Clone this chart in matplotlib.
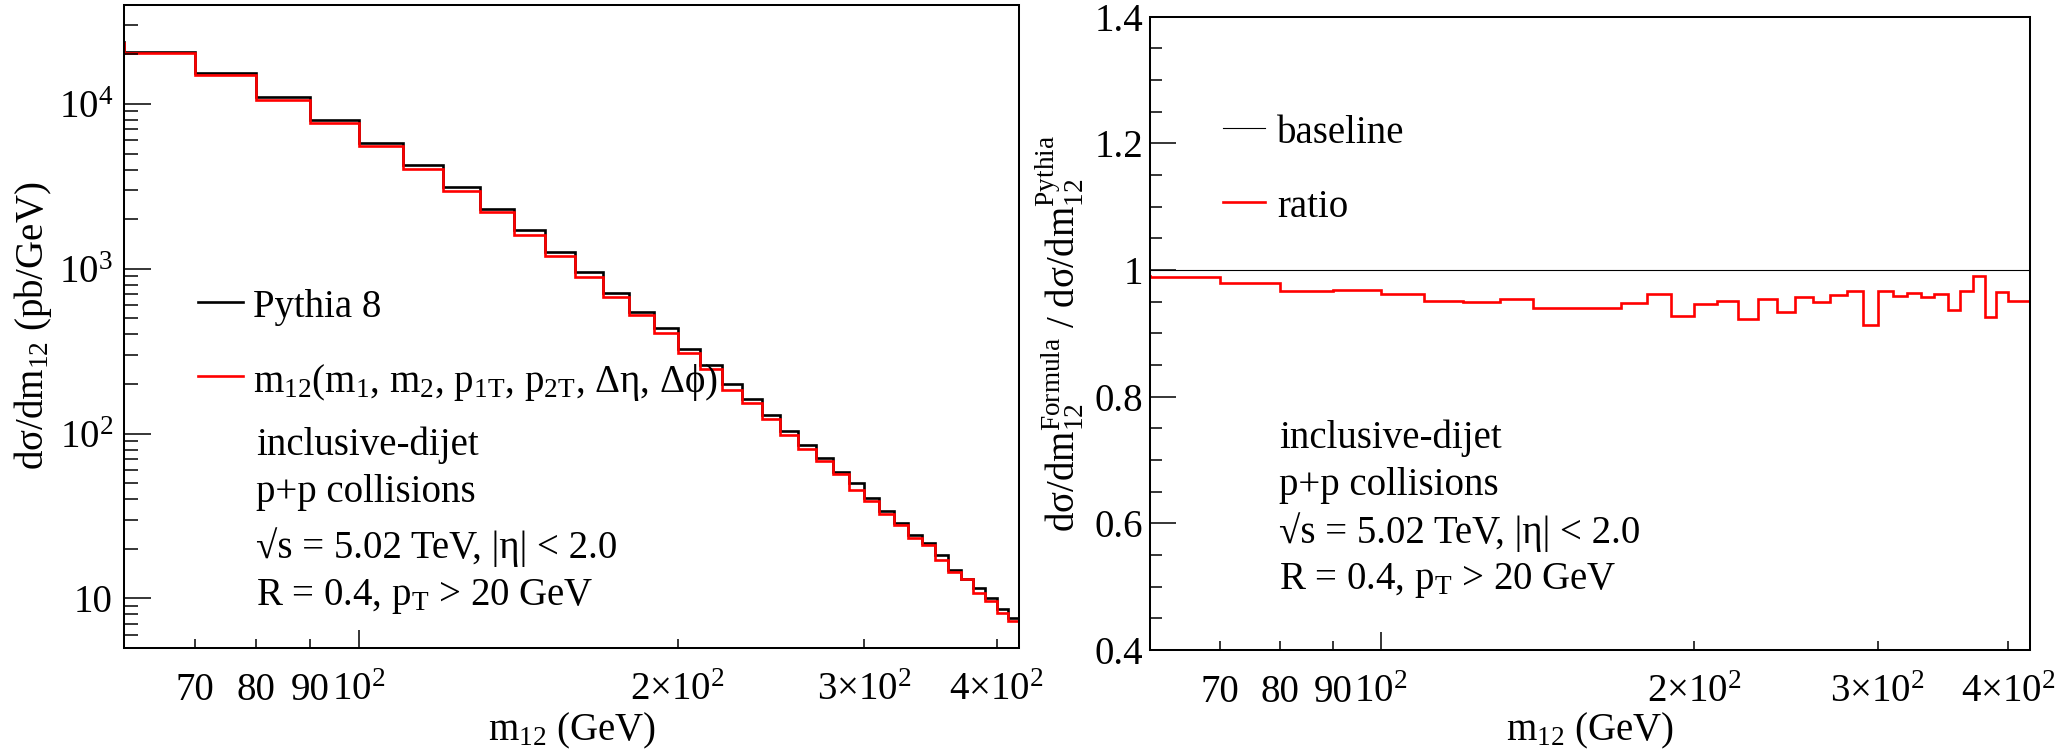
import numpy as np
import matplotlib
matplotlib.use("Agg")
import matplotlib.pyplot as plt
from matplotlib.lines import Line2D

plt.rcParams['font.family'] = ['Liberation Serif', 'DejaVu Serif']
plt.rcParams['mathtext.fontset'] = 'custom'
plt.rcParams['mathtext.rm'] = 'Liberation Serif'
plt.rcParams['mathtext.it'] = 'Liberation Serif'
plt.rcParams['mathtext.bf'] = 'Liberation Serif:bold'
plt.rcParams['mathtext.sf'] = 'Liberation Serif'

# ---------------- data ----------------
# m12 bins (GeV), 10 GeV wide; the first bin (50-60) lies just left of the visible range
bin_edges = np.arange(50, 430, 10)

# Pythia 8 cross section dsigma/dm12 (pb/GeV)
pythia_xsec = np.array([
    23740, 20720, 15340, 10980, 7950, 5785, 4245, 3115, 2300, 1715,
    1272, 952, 716, 543, 437, 324, 260, 199, 161.5, 130.5,
    103, 85.3, 71.0, 58.4, 50.0, 40.5, 34.1, 28.8, 24.2, 21.8,
    18.25, 14.9, 13.2, 11.6, 10.0, 8.6, 7.62])

# ratio formula / Pythia
ratio = np.array([
    0.990, 0.9895, 0.980, 0.967, 0.968, 0.962, 0.9505, 0.949, 0.955, 0.9405,
    0.9395, 0.9395, 0.9474, 0.962, 0.927, 0.946, 0.9516, 0.922, 0.954, 0.934,
    0.958, 0.9495, 0.9605, 0.967, 0.913, 0.967, 0.959, 0.9637, 0.958, 0.9616,
    0.9363, 0.9663, 0.9905, 0.9252, 0.9647, 0.9516, 0.951])

formula_xsec = pythia_xsec * ratio

x_major = [100]
x_major_labels = ['10$^{2}$']
x_minor = [70, 80, 90, 200, 300, 400]
x_minor_labels = ['70', '80', '90', '2\u00d710$^{2}$', '3\u00d710$^{2}$', '4\u00d710$^{2}$']

yL_major = [10, 100, 1000, 10000]
yL_major_labels = ['10', '10$^{2}$', '10$^{3}$', '10$^{4}$']

yR_major = [0.4, 0.6, 0.8, 1.0, 1.2, 1.4]
yR_major_labels = ['0.4', '0.6', '0.8', '1', '1.2', '1.4']

legend_left = ['Pythia 8', 'm$_{12}$(m$_{1}$, m$_{2}$, p$_{1\\mathrm{T}}$, p$_{2\\mathrm{T}}$, \u0394\u03b7, \u0394$\\phi$)']
legend_right = ['baseline', 'ratio']
info_lines = ['inclusive-dijet', 'p+p collisions',
              '\u221as = 5.02 TeV, |\u03b7| < 2.0',
              'R = 0.4, p$_{\\mathrm{T}}$ > 20 GeV']

# ---------------- figure ----------------
W, H = 2063, 756
fig = plt.figure(figsize=(W / 100, H / 100), dpi=100)


def fx(px):
    return px / W


def fy(py):
    return 1 - py / H


FS = 28
LW = 1.9

axL = fig.add_axes([fx(124), fy(648), fx(1019) - fx(124), fy(4.7) - fy(648)])
axR = fig.add_axes([fx(1150), fy(650), fx(2030) - fx(1150), fy(16.7) - fy(650)])

for ax in (axL, axR):
    ax.set_xscale('log')
    ax.set_xlim(60, 420)
    for s in ax.spines.values():
        s.set_linewidth(1.45)
    ax.set_xticks(x_major, labels=x_major_labels)
    ax.set_xticks(x_minor, labels=x_minor_labels, minor=True)
    ax.tick_params(axis='both', which='both', direction='in', top=False, right=False,
                   labelsize=FS, width=1.1)
    ax.tick_params(axis='x', which='major', length=13, pad=37.5)
    ax.tick_params(axis='x', which='minor', length=6.3, pad=37.5)
    for lab in ax.get_xticklabels(which='both'):
        lab.set_va('baseline')

# left panel
axL.set_yscale('log')
axL.set_ylim(5, 4e4)
axL.set_yticks(yL_major, labels=yL_major_labels)
yL_minor = [k * 10 ** e for e in range(0, 5) for k in range(2, 10) if 5 <= k * 10 ** e <= 4e4]
axL.set_yticks(yL_minor, minor=True)
axL.yaxis.set_minor_formatter(matplotlib.ticker.NullFormatter())
axL.tick_params(axis='y', which='major', length=19.4, pad=8)
axL.tick_params(axis='y', which='minor', length=9.9)

axL.stairs(pythia_xsec, bin_edges, color='black', lw=LW)
axL.stairs(formula_xsec, bin_edges, color='red', lw=LW)

# right panel
axR.set_ylim(0.4, 1.4)
axR.set_yticks(yR_major, labels=yR_major_labels)
axR.set_yticks(np.arange(0.45, 1.4, 0.05), minor=True)
axR.yaxis.set_minor_formatter(matplotlib.ticker.NullFormatter())
axR.tick_params(axis='y', which='major', length=19, pad=5)
axR.tick_params(axis='y', which='minor', length=8.8)

axR.plot([60, 420], [1.0, 1.0], color='black', lw=0.8)
axR.stairs(ratio, bin_edges, color='red', lw=LW)

# axis titles
fig.text(fx(572), fy(740), 'm$_{12}$ (GeV)', fontsize=FS, ha='center', va='baseline')
fig.text(fx(1590), fy(740), 'm$_{12}$ (GeV)', fontsize=FS, ha='center', va='baseline')
fig.text(fx(33), fy(326), 'd\u03c3/dm$_{12}$ (pb/GeV)', fontsize=FS, rotation=90,
         ha='center', va='center')
fig.text(fx(1060), fy(333),
         'd\u03c3/dm$_{12}^{\\mathrm{Formula}}$ / d\u03c3/dm$_{12}^{\\mathrm{Pythia}}$',
         fontsize=FS, rotation=90, ha='center', va='center')

# left legend
fig.add_artist(Line2D([fx(198), fx(242.5)], [fy(301.7)] * 2, color='black', lw=LW,
                      transform=fig.transFigure))
fig.add_artist(Line2D([fx(198), fx(242.5)], [fy(376)] * 2, color='red', lw=LW,
                      transform=fig.transFigure))
fig.text(fx(253), fy(316.7), legend_left[0], fontsize=FS, va='baseline')
fig.text(fx(253), fy(391.7), legend_left[1], fontsize=FS, va='baseline')
for s, yb in zip(info_lines, [455, 501.7, 558, 605]):
    fig.text(fx(256), fy(yb), s, fontsize=FS, va='baseline')

# right legend
fig.add_artist(Line2D([fx(1223), fx(1265)], [fy(127.8)] * 2, color='black', lw=0.8,
                      transform=fig.transFigure))
fig.add_artist(Line2D([fx(1223), fx(1265)], [fy(201.5)] * 2, color='red', lw=LW,
                      transform=fig.transFigure))
fig.text(fx(1277), fy(143), legend_right[0], fontsize=FS, va='baseline')
fig.text(fx(1277), fy(217), legend_right[1], fontsize=FS, va='baseline')
for s, yb in zip(info_lines, [448, 495, 543, 589]):
    fig.text(fx(1279), fy(yb), s, fontsize=FS, va='baseline')

fig.savefig('out.png', dpi=100)
